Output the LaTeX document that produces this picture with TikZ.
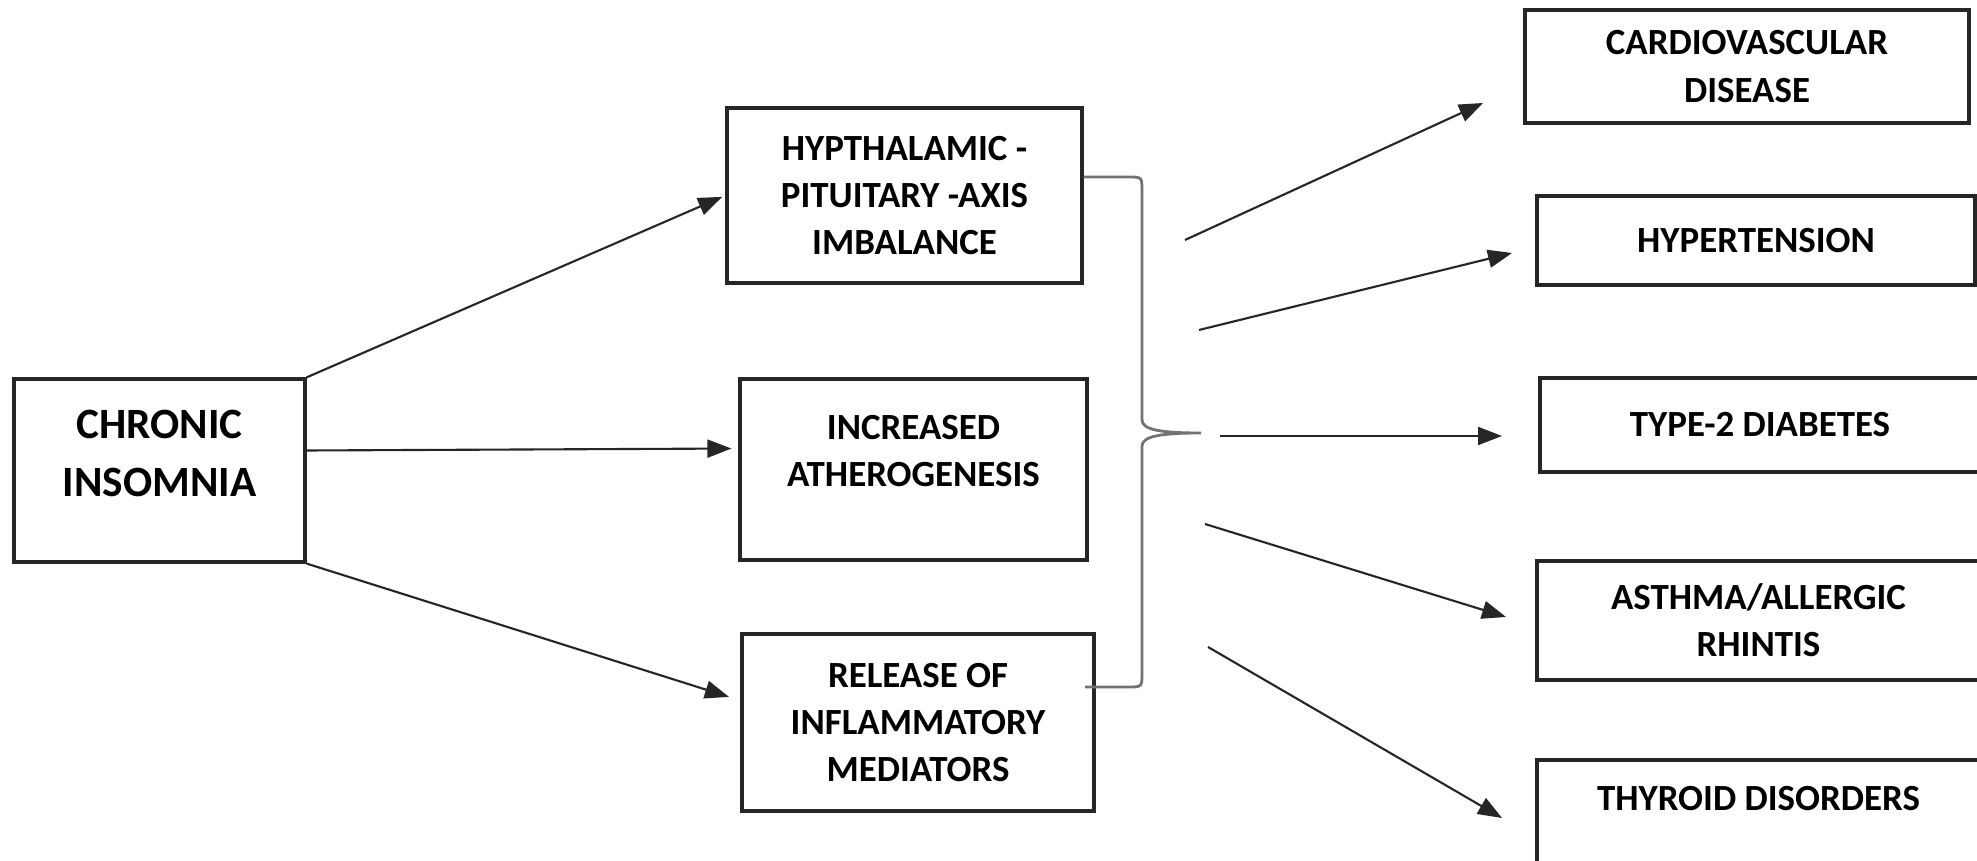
\documentclass[tikz,border=0pt]{standalone}
\usepackage{fontspec}
\setmainfont{Carlito}
\usepackage{tikz}
\usetikzlibrary{arrows.meta}

\begin{document}
\begin{tikzpicture}[>={Triangle[length=2.4mm, width=1.8mm]}, font=\fontsize{10.5}{13.4}\selectfont\bfseries]
    % Styles
    \tikzstyle{block} = [draw=black!85, line width=0.9pt, rectangle, align=center, inner sep=2pt]
    \tikzstyle{link} = [->, draw=black!85, line width=0.6pt]
    \tikzstyle{brace} = [draw=black!55, line width=0.8pt]

    \useasboundingbox (0,0) rectangle (19.77,8.60);
    \fill [white] (0,0) rectangle (19.77,8.60);

    % Boxes
    \node [block, minimum width=2.91cm, minimum height=1.83cm, font=\fontsize{12.3}{16.5}\selectfont\bfseries] (insomnia) at (1.595,3.895) {CHRONIC\\INSOMNIA\rule[-0.35cm]{0pt}{0pt}};

    \node [block, minimum width=3.55cm, minimum height=1.75cm] (hpa) at (9.045,6.645) {HYPTHALAMIC -\\PITUITARY -AXIS\\IMBALANCE};
    \node [block, minimum width=3.47cm, minimum height=1.81cm] (ather) at (9.135,3.905) {INCREASED\\ATHEROGENESIS\rule[-0.37cm]{0pt}{0pt}};
    \node [block, minimum width=3.52cm, minimum height=1.77cm] (infl) at (9.18,1.375) {RELEASE OF\\INFLAMMATORY\\MEDIATORS};

    \node [block, minimum width=4.44cm, minimum height=1.13cm] (cvd) at (17.47,7.935) {CARDIOVASCULAR\\DISEASE};
    \node [block, minimum width=4.38cm, minimum height=0.89cm] (htn) at (17.56,6.195) {HYPERTENSION};
    \node [block, minimum width=4.40cm, minimum height=0.94cm] (dm) at (17.60,4.35) {TYPE-2 DIABETES};
    \node [block, minimum width=4.43cm, minimum height=1.19cm] (asth) at (17.585,2.395) {ASTHMA/ALLERGIC\\RHINTIS};
    \node [block, minimum width=4.43cm, minimum height=1.10cm] (thy) at (17.585,0.45) {THYROID DISORDERS\rule[-0.34cm]{0pt}{0pt}};

    % Arrows to the middle column
    \draw [link, shorten >=1pt] (insomnia.north east) -- (hpa.west);
    \draw [link, shorten >=0.07cm] ([yshift=0.2cm]insomnia.east) -- ([yshift=0.21cm]ather.west);
    \draw [link, shorten >=0.12cm] (insomnia.south east) -- ([yshift=0.22cm]infl.west);

    % Brace
    \coordinate (tip) at (12.01,4.27);
    \draw [brace] ([yshift=0.185cm]hpa.east) -- (11.28,6.83) .. controls (11.42,6.83) .. (11.42,6.69) -- (11.42,4.40) .. controls (11.42,4.30) and (11.62,4.27) .. (tip) .. controls (11.62,4.27) and (11.42,4.24) .. (11.42,4.14) -- (11.42,1.87) .. controls (11.42,1.73) .. (11.28,1.73) -- (10.85,1.73);

    % Arrows to the outcomes
    \coordinate (s1) at (11.85,6.20);  \coordinate (t1) at (14.83,7.57);
    \coordinate (s2) at (11.99,5.30);  \coordinate (t2) at (15.12,6.07);
    \coordinate (s3) at (12.20,4.24);  \coordinate (t3) at (15.02,4.24);
    \coordinate (s4) at (12.05,3.36);  \coordinate (t4) at (15.06,2.43);
    \coordinate (s5) at (12.08,2.13);  \coordinate (t5) at (15.02,0.42);
    \draw [link] (s1) -- (t1);
    \draw [link] (s2) -- (t2);
    \draw [link] (s3) -- (t3);
    \draw [link] (s4) -- (t4);
    \draw [link] (s5) -- (t5);
\end{tikzpicture}
\end{document}
